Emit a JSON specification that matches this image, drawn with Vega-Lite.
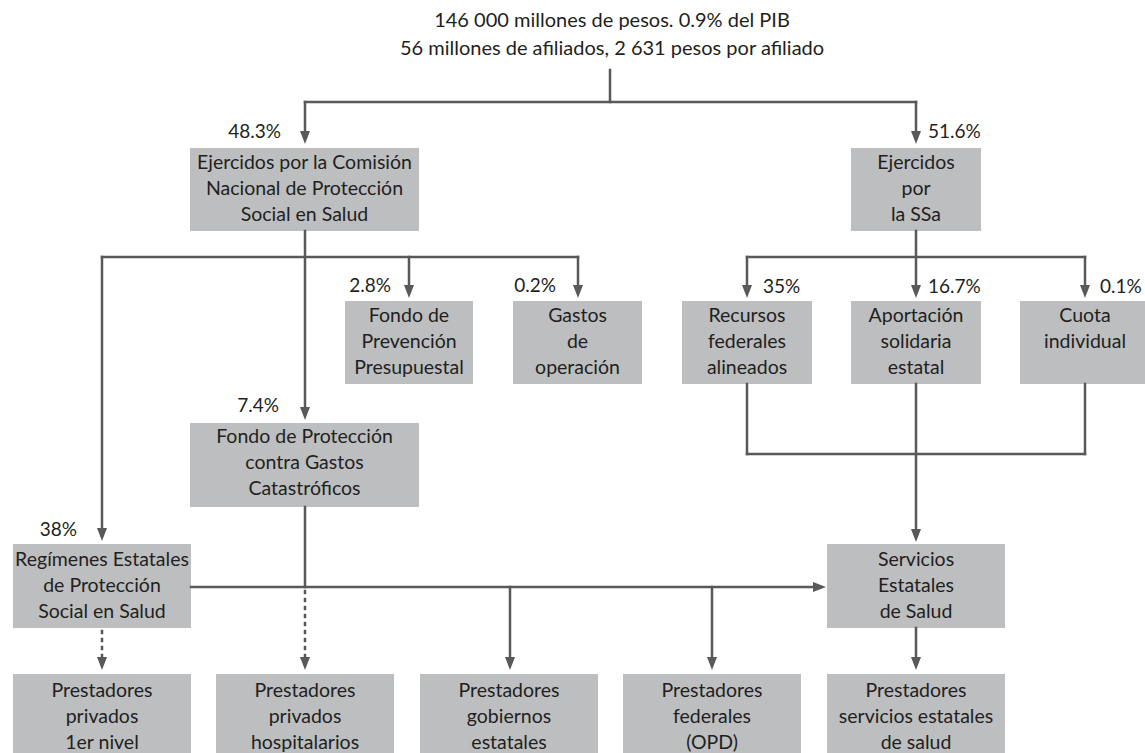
{
  "$schema": "https://vega.github.io/schema/vega-lite/v6.json",
  "width": 1145,
  "height": 753,
  "autosize": {"type": "none"},
  "padding": 0,
  "background": "white",
  "config": {"view": {"stroke": null}},
  "datasets": {
    "boxes": [
      {"label": "Ejercidos por la Comisión|Nacional de Protección|Social en Salud", "x1": 190, "x2": 419, "y1": 148, "y2": 231, "tx": 304.5, "ty": 163},
      {"label": "Ejercidos|por|la SSa", "x1": 851, "x2": 981, "y1": 148, "y2": 231, "tx": 916, "ty": 163},
      {"label": "Fondo de|Prevención|Presupuestal", "x1": 345, "x2": 473, "y1": 301, "y2": 384, "tx": 409, "ty": 316},
      {"label": "Gastos|de|operación", "x1": 513, "x2": 642, "y1": 301, "y2": 384, "tx": 577.5, "ty": 316},
      {"label": "Recursos|federales|alineados", "x1": 682, "x2": 812, "y1": 301, "y2": 384, "tx": 747, "ty": 316},
      {"label": "Aportación|solidaria|estatal", "x1": 851, "x2": 981, "y1": 301, "y2": 384, "tx": 916, "ty": 316},
      {"label": "Cuota|individual", "x1": 1020, "x2": 1145, "y1": 301, "y2": 384, "tx": 1085, "ty": 316},
      {"label": "Fondo de Protección|contra Gastos|Catastróficos", "x1": 190, "x2": 419, "y1": 423, "y2": 507, "tx": 304.5, "ty": 437},
      {"label": "Regímenes Estatales|de Protección|Social en Salud", "x1": 13, "x2": 191, "y1": 544, "y2": 628, "tx": 102, "ty": 560},
      {"label": "Servicios|Estatales|de Salud", "x1": 827, "x2": 1005, "y1": 544, "y2": 628, "tx": 916, "ty": 560},
      {"label": "Prestadores|privados|1er nivel", "x1": 13, "x2": 191, "y1": 674, "y2": 753, "tx": 102, "ty": 691},
      {"label": "Prestadores|privados|hospitalarios", "x1": 216, "x2": 394, "y1": 674, "y2": 753, "tx": 305, "ty": 691},
      {"label": "Prestadores|gobiernos|estatales", "x1": 420, "x2": 598, "y1": 674, "y2": 753, "tx": 509, "ty": 691},
      {"label": "Prestadores|federales|(OPD)", "x1": 623, "x2": 801, "y1": 674, "y2": 753, "tx": 712, "ty": 691},
      {"label": "Prestadores|servicios estatales|de salud", "x1": 827, "x2": 1005, "y1": 674, "y2": 753, "tx": 916, "ty": 691}
    ],
    "lines": [
      {"x": 610, "y": 70, "x2": 610, "y2": 102, "style": "solid"},
      {"x": 305, "y": 102, "x2": 916, "y2": 102, "style": "solid"},
      {"x": 305, "y": 102, "x2": 305, "y2": 138, "style": "solid"},
      {"x": 916, "y": 102, "x2": 916, "y2": 138, "style": "solid"},
      {"x": 305, "y": 231, "x2": 305, "y2": 414, "style": "solid"},
      {"x": 102, "y": 257, "x2": 578, "y2": 257, "style": "solid"},
      {"x": 102, "y": 257, "x2": 102, "y2": 535, "style": "solid"},
      {"x": 409, "y": 257, "x2": 409, "y2": 292, "style": "solid"},
      {"x": 578, "y": 257, "x2": 578, "y2": 292, "style": "solid"},
      {"x": 916, "y": 231, "x2": 916, "y2": 292, "style": "solid"},
      {"x": 747, "y": 257, "x2": 1085, "y2": 257, "style": "solid"},
      {"x": 747, "y": 257, "x2": 747, "y2": 292, "style": "solid"},
      {"x": 1085, "y": 257, "x2": 1085, "y2": 292, "style": "solid"},
      {"x": 747, "y": 384, "x2": 747, "y2": 454, "style": "solid"},
      {"x": 1085, "y": 384, "x2": 1085, "y2": 454, "style": "solid"},
      {"x": 747, "y": 454, "x2": 1085, "y2": 454, "style": "solid"},
      {"x": 916, "y": 384, "x2": 916, "y2": 536, "style": "solid"},
      {"x": 305, "y": 507, "x2": 305, "y2": 587, "style": "solid"},
      {"x": 191, "y": 587, "x2": 820, "y2": 587, "style": "solid"},
      {"x": 305, "y": 591, "x2": 305, "y2": 662, "style": "dotted"},
      {"x": 102, "y": 631, "x2": 102, "y2": 662, "style": "dotted"},
      {"x": 510, "y": 587, "x2": 510, "y2": 664, "style": "solid"},
      {"x": 712, "y": 587, "x2": 712, "y2": 664, "style": "solid"},
      {"x": 916, "y": 628, "x2": 916, "y2": 664, "style": "solid"}
    ],
    "arrows": [
      {"x": 305, "y": 144, "dir": "down"},
      {"x": 916, "y": 144, "dir": "down"},
      {"x": 409, "y": 298, "dir": "down"},
      {"x": 578, "y": 298, "dir": "down"},
      {"x": 305, "y": 420, "dir": "down"},
      {"x": 102, "y": 541, "dir": "down"},
      {"x": 747, "y": 298, "dir": "down"},
      {"x": 916, "y": 298, "dir": "down"},
      {"x": 1085, "y": 298, "dir": "down"},
      {"x": 916, "y": 542, "dir": "down"},
      {"x": 826, "y": 587, "dir": "right"},
      {"x": 102, "y": 670, "dir": "down"},
      {"x": 305, "y": 670, "dir": "down"},
      {"x": 510, "y": 670, "dir": "down"},
      {"x": 712, "y": 670, "dir": "down"},
      {"x": 916, "y": 670, "dir": "down"}
    ],
    "labels": [
      {"text": "48.3%", "x": 281, "y": 132, "side": "right"},
      {"text": "51.6%", "x": 928, "y": 132, "side": "left"},
      {"text": "2.8%", "x": 391, "y": 286, "side": "right"},
      {"text": "0.2%", "x": 556, "y": 286, "side": "right"},
      {"text": "7.4%", "x": 279, "y": 406, "side": "right"},
      {"text": "38%", "x": 77, "y": 530, "side": "right"},
      {"text": "35%", "x": 763, "y": 287, "side": "left"},
      {"text": "16.7%", "x": 928, "y": 287, "side": "left"},
      {"text": "0.1%", "x": 1100, "y": 287, "side": "left"}
    ],
    "title": [
      {"text": "146 000 millones de pesos. 0.9% del PIB|56 millones de afiliados, 2 631 pesos por afiliado", "x": 612, "y": 21}
    ]
  },
  "layer": [
    {
      "data": {"name": "boxes"},
      "mark": {"type": "rect", "color": "#bcbec0"},
      "encoding": {
        "x": {"field": "x1", "type": "quantitative", "scale": {"domain": [0, 1145], "nice": false, "zero": false}, "axis": null},
        "x2": {"field": "x2"},
        "y": {"field": "y1", "type": "quantitative", "scale": {"domain": [0, 753], "nice": false, "zero": false, "reverse": true}, "axis": null},
        "y2": {"field": "y2"}
      }
    },
    {
      "data": {"name": "lines"},
      "mark": {"type": "rule", "color": "#58595b", "strokeWidth": 2.5, "strokeCap": "square"},
      "encoding": {
        "x": {"field": "x", "type": "quantitative", "scale": {"domain": [0, 1145], "nice": false, "zero": false}, "axis": null},
        "x2": {"field": "x2"},
        "y": {"field": "y", "type": "quantitative", "scale": {"domain": [0, 753], "nice": false, "zero": false, "reverse": true}, "axis": null},
        "y2": {"field": "y2"},
        "strokeDash": {"field": "style", "type": "nominal", "scale": {"domain": ["solid", "dotted"], "range": [[1, 0], [2, 6]]}, "legend": null}
      }
    },
    {
      "data": {"name": "arrows"},
      "transform": [{"filter": "datum.dir === 'down'"}],
      "mark": {"type": "point", "shape": "M-5,-13L5,-13L0,0Z", "size": 4, "filled": true, "color": "#58595b", "opacity": 1, "strokeWidth": 0},
      "encoding": {
        "x": {"field": "x", "type": "quantitative", "scale": {"domain": [0, 1145], "nice": false, "zero": false}, "axis": null},
        "y": {"field": "y", "type": "quantitative", "scale": {"domain": [0, 753], "nice": false, "zero": false, "reverse": true}, "axis": null}
      }
    },
    {
      "data": {"name": "arrows"},
      "transform": [{"filter": "datum.dir === 'right'"}],
      "mark": {"type": "point", "shape": "M-13,-5L-13,5L0,0Z", "size": 4, "filled": true, "color": "#58595b", "opacity": 1, "strokeWidth": 0},
      "encoding": {
        "x": {"field": "x", "type": "quantitative", "scale": {"domain": [0, 1145], "nice": false, "zero": false}, "axis": null},
        "y": {"field": "y", "type": "quantitative", "scale": {"domain": [0, 753], "nice": false, "zero": false, "reverse": true}, "axis": null}
      }
    },
    {
      "data": {"name": "boxes"},
      "mark": {"type": "text", "lineBreak": "|", "font": "Lato", "fontSize": 19.5, "lineHeight": 26, "align": "center", "baseline": "middle", "color": "#231f20"},
      "encoding": {
        "x": {"field": "tx", "type": "quantitative", "scale": {"domain": [0, 1145], "nice": false, "zero": false}, "axis": null},
        "y": {"field": "ty", "type": "quantitative", "scale": {"domain": [0, 753], "nice": false, "zero": false, "reverse": true}, "axis": null},
        "text": {"field": "label"}
      }
    },
    {
      "data": {"name": "labels"},
      "transform": [{"filter": "datum.side === 'right'"}],
      "mark": {"type": "text", "font": "Lato", "fontSize": 19, "align": "right", "baseline": "middle", "color": "#231f20"},
      "encoding": {
        "x": {"field": "x", "type": "quantitative", "scale": {"domain": [0, 1145], "nice": false, "zero": false}, "axis": null},
        "y": {"field": "y", "type": "quantitative", "scale": {"domain": [0, 753], "nice": false, "zero": false, "reverse": true}, "axis": null},
        "text": {"field": "text"}
      }
    },
    {
      "data": {"name": "labels"},
      "transform": [{"filter": "datum.side === 'left'"}],
      "mark": {"type": "text", "font": "Lato", "fontSize": 19, "align": "left", "baseline": "middle", "color": "#231f20"},
      "encoding": {
        "x": {"field": "x", "type": "quantitative", "scale": {"domain": [0, 1145], "nice": false, "zero": false}, "axis": null},
        "y": {"field": "y", "type": "quantitative", "scale": {"domain": [0, 753], "nice": false, "zero": false, "reverse": true}, "axis": null},
        "text": {"field": "text"}
      }
    },
    {
      "data": {"name": "title"},
      "mark": {"type": "text", "lineBreak": "|", "font": "Lato", "fontSize": 20, "lineHeight": 28, "align": "center", "baseline": "middle", "color": "#231f20"},
      "encoding": {
        "x": {"field": "x", "type": "quantitative", "scale": {"domain": [0, 1145], "nice": false, "zero": false}, "axis": null},
        "y": {"field": "y", "type": "quantitative", "scale": {"domain": [0, 753], "nice": false, "zero": false, "reverse": true}, "axis": null},
        "text": {"field": "text"}
      }
    }
  ]
}
